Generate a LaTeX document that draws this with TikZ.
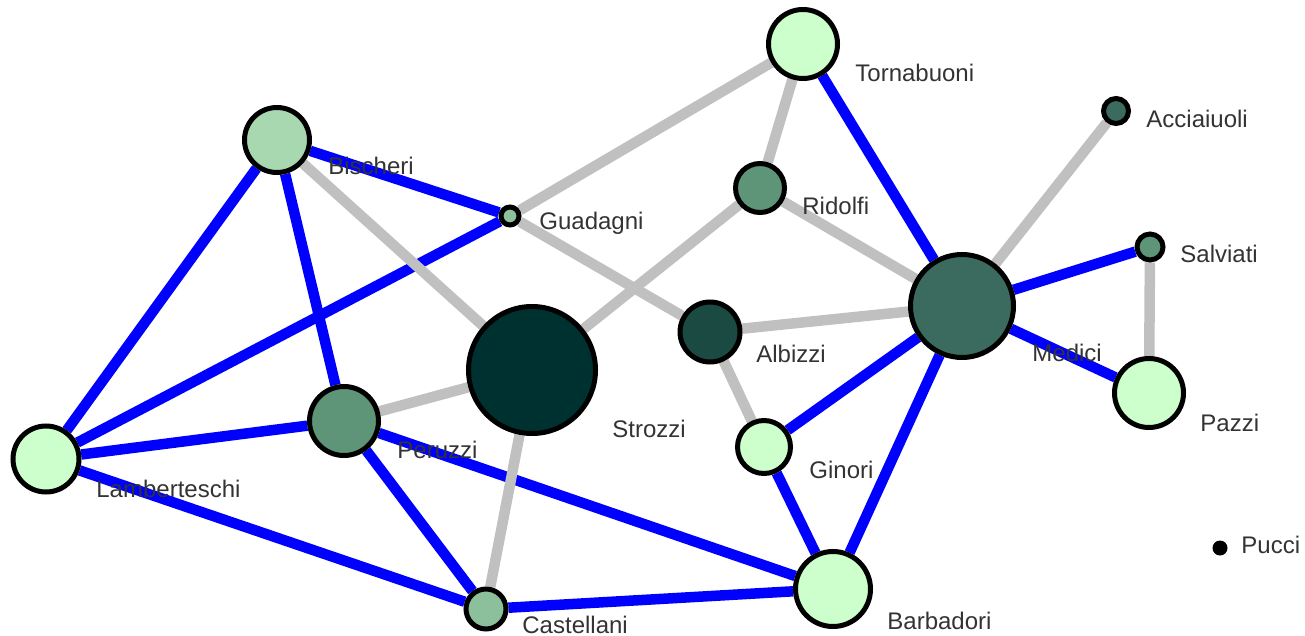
\documentclass[tikz,border=0pt]{standalone}
\usepackage{fontspec}
\setmainfont{Liberation Sans}
\usetikzlibrary{backgrounds}

\definecolor{famA}{HTML}{CCFFCC}
\definecolor{famB}{HTML}{A8D8B0}
\definecolor{famC}{HTML}{8CC09C}
\definecolor{famD}{HTML}{5E9478}
\definecolor{famE}{HTML}{3B6B5E}
\definecolor{famF}{HTML}{1B4A42}
\definecolor{famG}{HTML}{003131}
\definecolor{tie}{HTML}{C0C0C0}

\begin{document}
\begin{tikzpicture}[
    x=0.5pt, y=-0.5pt,
    fam/.style={circle, draw=black, line width=2.5pt, inner sep=0pt,
                minimum size=#1*0.5pt},
    lab/.style={anchor=base west, inner sep=0pt, text=black!80,
                font=\fontsize{12pt}{14pt}\selectfont},
    biz/.style={draw=blue, line width=5.25pt},
    mar/.style={draw=tie, line width=5.25pt}
  ]
  \useasboundingbox (0,0) rectangle (1305,636);

  \node[fam=69,  fill=famA] (tor) at (803,44)  {};
  \node[fam=65,  fill=famB] (bis) at (277,140) {};
  \node[fam=18,  fill=famC] (gua) at (510,216) {};
  \node[fam=49,  fill=famD] (rid) at (760,188) {};
  \node[fam=25,  fill=famE] (acc) at (1116,111) {};
  \node[fam=26,  fill=famD] (sal) at (1150,247) {};
  \node[fam=103, fill=famE] (med) at (962,306) {};
  \node[fam=60,  fill=famF] (alb) at (710,332) {};
  \node[fam=127, fill=famG] (str) at (532,370) {};
  \node[fam=69,  fill=famA] (paz) at (1149,393) {};
  \node[fam=69,  fill=famD] (per) at (344,421) {};
  \node[fam=53,  fill=famA] (gin) at (764,447) {};
  \node[fam=66,  fill=famA] (lam) at (46,459)  {};
  \node[fam=75,  fill=famA] (bar) at (833,589) {};
  \node[fam=40,  fill=famC] (cas) at (486,609) {};
  \node[circle, fill=black, inner sep=0pt, minimum size=7.5pt] (puc) at (1220,548) {};

  \begin{scope}[on background layer]
    \draw[biz] (bis) -- (gua);
    \draw[biz] (bis) -- (lam);
    \draw[biz] (bis) -- (per);
    \draw[biz] (gua) -- (lam);
    \draw[biz] (lam) -- (per);
    \draw[biz] (lam) -- (cas);
    \draw[biz] (per) -- (cas);
    \draw[biz] (per) -- (bar);
    \draw[biz] (cas) -- (bar);
    \draw[biz] (tor) -- (med);
    \draw[biz] (med) -- (sal);
    \draw[biz] (med) -- (paz);
    \draw[biz] (med) -- (gin);
    \draw[biz] (med) -- (bar);
    \draw[biz] (gin) -- (bar);

    \draw[mar] (tor) -- (gua);
    \draw[mar] (tor) -- (rid);
    \draw[mar] (bis) -- (str);
    \draw[mar] (gua) -- (alb);
    \draw[mar] (rid) -- (str);
    \draw[mar] (rid) -- (med);
    \draw[mar] (alb) -- (med);
    \draw[mar] (alb) -- (gin);
    \draw[mar] (acc) -- (med);
    \draw[mar] (sal) -- (paz);
    \draw[mar] (per) -- (str);
    \draw[mar] (str) -- (cas);
  \end{scope}

  \node[lab] (tor-l) at (855,82)  {Tornabuoni};
  \node[lab] (bis-l) at (328,175) {Bischeri};
  \node[lab] (gua-l) at (539,229) {Guadagni};
  \node[lab] (rid-l) at (802,215) {Ridolfi};
  \node[lab] (acc-l) at (1146,128) {Acciaiuoli};
  \node[lab] (sal-l) at (1180,263) {Salviati};
  \node[lab] (med-l) at (1032,361) {Medici};
  \node[lab] (alb-l) at (756,362) {Albizzi};
  \node[lab] (str-l) at (612,437) {Strozzi};
  \node[lab] (paz-l) at (1200,431) {Pazzi};
  \node[lab] (per-l) at (397,458) {Peruzzi};
  \node[lab] (gin-l) at (809,478) {Ginori};
  \node[lab] (lam-l) at (96,497)  {Lamberteschi};
  \node[lab] (cas-l) at (522,633) {Castellani};
  \node[lab] (bar-l) at (887,629) {Barbadori};
  \node[lab] (puc-l) at (1241,553) {Pucci};
\end{tikzpicture}
\end{document}
